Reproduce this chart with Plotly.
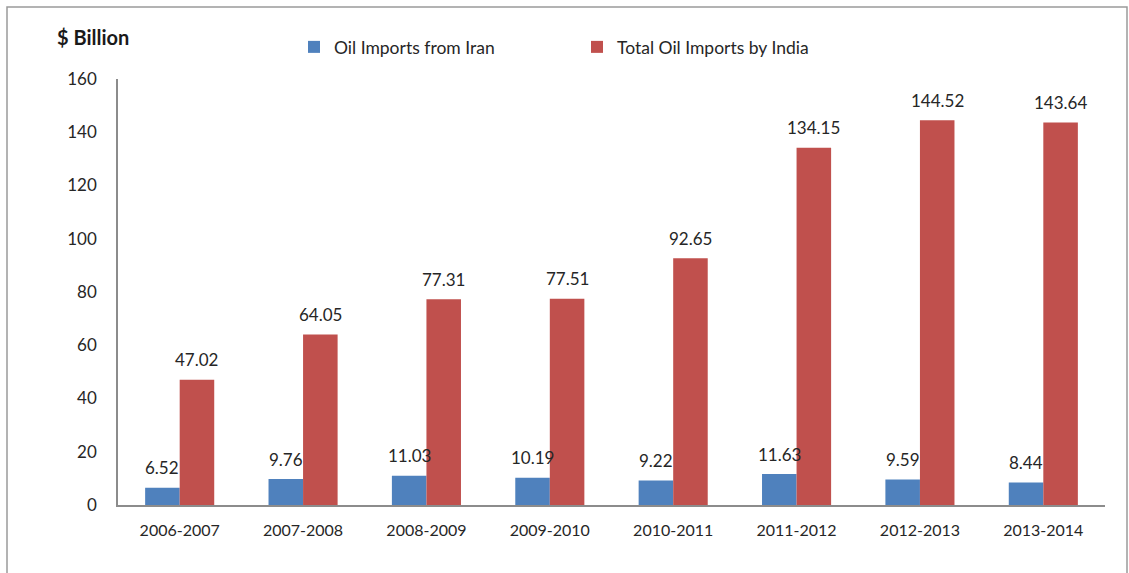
import plotly.graph_objects as go

# Financial years and import values ($ billion)
years = ["2006-2007", "2007-2008", "2008-2009", "2009-2010",
         "2010-2011", "2011-2012", "2012-2013", "2013-2014"]
iran_imports = [6.52, 9.76, 11.03, 10.19, 9.22, 11.63, 9.59, 8.44]
total_imports = [47.02, 64.05, 77.31, 77.51, 92.65, 134.15, 144.52, 143.64]
y_ticks = [0, 20, 40, 60, 80, 100, 120, 140, 160]

BLUE = "#4F81BD"
RED = "#C0504D"
TEXT = "#262626"
FONT = "Lato, 'Open Sans', sans-serif"

W, H = 1129, 573
L, R, T, B = 118, 24, 79, 68

fig = go.Figure()
fig.add_trace(go.Bar(x=years, y=iran_imports, name="Oil Imports from Iran",
                     marker=dict(color=BLUE, line=dict(width=0))))
fig.add_trace(go.Bar(x=years, y=total_imports, name="Total Oil Imports by India",
                     marker=dict(color=RED, line=dict(width=0))))

# value labels above each bar
plot_w = W - L - R
bar_w = plot_w / len(years) * (1 - 0.44) / 2
annotations = []
for series, shift in ((iran_imports, -bar_w / 2), (total_imports, bar_w / 2)):
    for yr, v in zip(years, series):
        annotations.append(dict(
            x=yr, y=v, xref="x", yref="y", text=f"{v:.2f}", showarrow=False,
            xshift=shift, yshift=20, yanchor="middle", xanchor="center",
            font=dict(family=FONT, size=17, color=TEXT)))

annotations.append(dict(
    x=(55 - L) / plot_w, y=(H - B - 37) / (H - T - B), xref="paper", yref="paper",
    text="<b>$ Billion</b>", showarrow=False, xanchor="left", yanchor="middle",
    font=dict(family=FONT, size=20, color="#1a1a1a")))

fig.update_layout(
    width=W, height=H,
    margin=dict(l=L, r=R, t=T, b=B, pad=0),
    paper_bgcolor="white", plot_bgcolor="white",
    barmode="group", bargap=0.44, bargroupgap=0,
    font=dict(family=FONT, color=TEXT),
    showlegend=True,
    legend=dict(orientation="h", x=(294 - L) / plot_w, xanchor="left",
                y=(H - B - 47) / (H - T - B), yanchor="middle",
                font=dict(family=FONT, size=17.5, color=TEXT),
                entrywidth=238, entrywidthmode="pixels",
                itemwidth=30, bgcolor="rgba(0,0,0,0)"),
    annotations=annotations,
    shapes=[dict(type="rect", xref="paper", yref="paper",
                 x0=(7 - L) / plot_w, x1=(1127 - L) / plot_w,
                 y0=-0.2, y1=(H - B - 7) / (H - T - B),
                 line=dict(color="#9a9a9a", width=1.5), layer="below")],
)
fig.update_xaxes(showline=True, linecolor="#8c8c8c", linewidth=1.5,
                 ticks="", showgrid=False, zeroline=False,
                 tickfont=dict(family=FONT, size=16, color=TEXT),
                 ticklabelstandoff=10)
fig.update_yaxes(range=[0, 160], tickvals=y_ticks, showline=True,
                 linecolor="#8c8c8c", linewidth=1.5, ticks="", showgrid=False,
                 zeroline=False, tickfont=dict(family=FONT, size=17, color=TEXT),
                 ticklabelstandoff=16)

fig.write_html("out.html")
